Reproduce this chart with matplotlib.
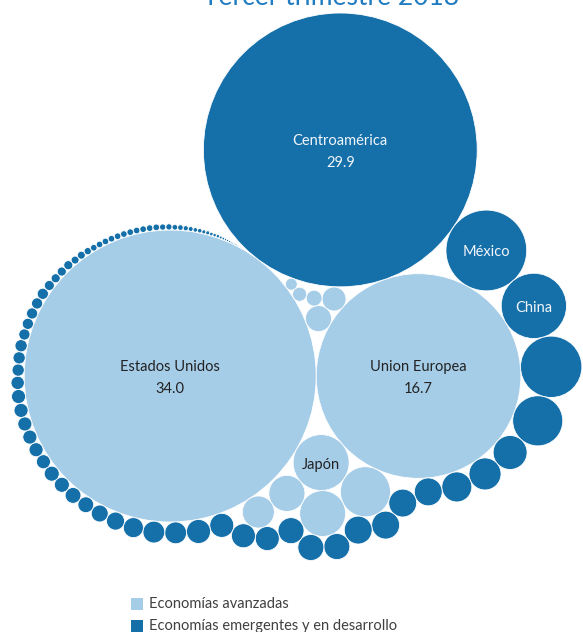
from __future__ import annotations

import matplotlib
matplotlib.use('Agg')
import matplotlib.pyplot as plt
import numpy as np
from matplotlib.patches import Circle, Rectangle

# Participación por destino (%), tercer trimestre 2018
avanzadas_nombres = ['Estados Unidos', 'Union Europea', 'Japón']
avanzadas_valores = [34.0, 16.7, 1.25]
# resto de economías avanzadas (sin etiqueta)
avanzadas_resto = [1.0, 0.84, 0.52, 0.41, 0.27, 0.23, 0.10, 0.08, 0.057]

emergentes_nombres = ['Centroamérica', 'México', 'China']
emergentes_valores = [29.9, 2.6, 1.7]
# resto de economías emergentes y en desarrollo, de mayor a menor
emergentes_resto = [
    1.5, 1.0, 0.46, 0.41, 0.36, 0.31, 0.31, 0.31, 0.31, 0.27, 0.27, 0.27,
    0.23, 0.23, 0.23, 0.23, 0.19, 0.19, 0.16, 0.13, 0.115, 0.10, 0.10,
    0.09, 0.09, 0.079, 0.079, 0.079, 0.079, 0.079, 0.079, 0.071, 0.06,
    0.06, 0.06, 0.05, 0.05, 0.05, 0.05, 0.05, 0.04, 0.033, 0.033, 0.033,
    0.025, 0.025, 0.021, 0.0175, 0.0175, 0.0175, 0.0175, 0.0175, 0.0175,
    0.0175, 0.0175, 0.0175, 0.0175, 0.0175, 0.0156, 0.0156, 0.0125, 0.0125,
    0.0105, 0.0096, 0.008, 0.008, 0.0065, 0.0065, 0.0051, 0.0045, 0.0045,
    0.0034, 0.0029, 0.002, 0.0018, 0.0016, 0.0014, 0.0012, 0.001, 0.0009,
    0.0008, 0.0007,
]

# solo las tres burbujas grandes muestran su valor
con_valor = ['Estados Unidos', 'Union Europea', 'Centroamérica']

titulo = 'Tercer trimestre 2018'
leyenda = ['Economías avanzadas', 'Economías emergentes y en desarrollo']

AZUL_CLARO = '#a6cde8'
AZUL_OSCURO = '#1570aa'
ESCALA = 25.04  # px por raíz de punto porcentual (área proporcional al valor)
FUENTE = 'Lato'


def radio(v):
    return ESCALA * np.sqrt(v)


def tangentes(c1, c2, r):
    """Centros posibles de un círculo de radio r que toca a c1 y c2."""
    x1, y1, r1 = c1
    x2, y2, r2 = c2
    d1, d2 = r1 + r, r2 + r
    dx, dy = x2 - x1, y2 - y1
    d = np.hypot(dx, dy)
    if d == 0 or d > d1 + d2 or d < abs(d1 - d2):
        return []
    a = (d1 ** 2 - d2 ** 2 + d ** 2) / (2 * d)
    h = np.sqrt(max(d1 ** 2 - a ** 2, 0.0))
    ux, uy = dx / d, dy / d
    px, py = x1 + a * ux, y1 + a * uy
    return [(px - h * uy, py + h * ux), (px + h * uy, py - h * ux)]


def libre(x, y, r, arr):
    d = np.hypot(arr[:, 0] - x, arr[:, 1] - y)
    return bool(np.all(d >= arr[:, 2] + r - 1e-6))


def colocar_cerca(r, circulos, objetivo, filtro):
    """Coloca el círculo tocando a dos ya puestos, lo más cerca del objetivo."""
    arr = np.array(circulos)
    mejor = None
    for i in range(len(circulos)):
        for j in range(i + 1, len(circulos)):
            for x, y in tangentes(circulos[i], circulos[j], r):
                if not filtro(x, y) or not libre(x, y, r, arr):
                    continue
                d = np.hypot(x - objetivo[0], y - objetivo[1])
                if mejor is None or d < mejor[0]:
                    mejor = (d, x, y)
    return (mejor[1], mejor[2], r)


def rodear(valores, circulos, i_inicio, origen):
    """Cadena de burbujas pegadas al grupo, avanzando en sentido horario."""
    ox, oy = origen
    i_prev = i_inicio
    for v in valores:
        r = radio(v)
        arr = np.array(circulos)
        prev = circulos[i_prev]
        a0 = np.arctan2(prev[1] - oy, prev[0] - ox)
        mejor = None
        for k, c in enumerate(circulos):
            if k == i_prev:
                continue
            for x, y in tangentes(prev, c, r):
                da = (np.arctan2(y - oy, x - ox) - a0) % (2 * np.pi)
                if not 0 < da < np.pi:
                    continue
                if not libre(x, y, r, arr):
                    continue
                d = np.hypot(x - ox, y - oy)
                if mejor is None or d < mejor[0]:
                    mejor = (d, x, y)
        circulos.append((mejor[1], mejor[2], r))
        i_prev = len(circulos) - 1


def main():
    r_us, r_ue = radio(avanzadas_valores[0]), radio(avanzadas_valores[1])
    r_ca = radio(emergentes_valores[0])

    # tres burbujas grandes tocándose (y hacia abajo)
    us = (0.0, 0.0, r_us)
    ue = (r_us + r_ue, 0.0, r_ue)
    ca_xy = min(tangentes(us, ue, r_ca), key=lambda p: p[1])
    ca = (ca_xy[0], ca_xy[1], r_ca)
    circulos = [us, ue, ca]
    origen = (r_us, 0.0)

    # hueco entre las tres grandes
    r_hueco = 1.0 / (1 / r_us + 1 / r_ue + 1 / r_ca
                     + 2 * np.sqrt(1 / (r_us * r_ue) + 1 / (r_ue * r_ca)
                                   + 1 / (r_ca * r_us)))

    # Japón en la muesca inferior entre EE.UU. y la UE
    circulos.append(colocar_cerca(radio(avanzadas_valores[2]), circulos,
                                  origen, lambda x, y: y > 0))

    # las avanzadas menores rellenan el hueco de arriba, el resto va abajo
    chicas = [v for v in avanzadas_resto if radio(v) < 0.75 * r_hueco]
    medianas = [v for v in avanzadas_resto if radio(v) >= 0.75 * r_hueco]
    rodear(medianas, circulos, 1, origen)
    tope = 0.0
    for v in chicas:
        c = colocar_cerca(radio(v), circulos, origen,
                          lambda x, y: y < tope + 1e-6)
        circulos.append(c)
        tope = min(tope, c[1]) if tope < 0 else c[1]
    colores = [AZUL_CLARO, AZUL_CLARO, AZUL_OSCURO]
    colores += [AZUL_CLARO] * (len(circulos) - 3)

    # emergentes: cadena alrededor del grupo desde Centroamérica
    n0 = len(circulos)
    rodear(emergentes_valores[1:] + emergentes_resto, circulos, 2, origen)
    colores += [AZUL_OSCURO] * (len(circulos) - n0)

    arr = np.array(circulos)
    arr[:, 0] += 11 - (arr[:, 0] - arr[:, 2]).min()
    arr[:, 1] += 13 - (arr[:, 1] - arr[:, 2]).min()

    fig = plt.figure(figsize=(5.83, 6.32), dpi=100)
    ax = fig.add_axes([0, 0, 1, 1])
    ax.set_xlim(0, 583)
    ax.set_ylim(632, 0)
    ax.axis('off')

    for (x, y, r), col in zip(arr, colores):
        ax.add_patch(Circle((x, y), r, facecolor=col, edgecolor='white',
                            linewidth=0.6))

    # etiquetas: índice de cada burbuja con nombre
    nombres = {
        'Estados Unidos': (0, avanzadas_valores[0]),
        'Union Europea': (1, avanzadas_valores[1]),
        'Centroamérica': (2, emergentes_valores[0]),
        'Japón': (3, avanzadas_valores[2]),
        'México': (n0, emergentes_valores[1]),
        'China': (n0 + 1, emergentes_valores[2]),
    }
    for nombre, (i, v) in nombres.items():
        x, y, r = arr[i]
        txt = f'{nombre}\n{v:.1f}' if nombre in con_valor else nombre
        col = '#f2f6fa' if colores[i] == AZUL_OSCURO else '#222222'
        ax.text(x, y + 2, txt, ha='center', va='center', fontsize=10.5,
                family=FUENTE, color=col, linespacing=1.75)

    ax.text(331, 5, titulo, ha='center', va='baseline', fontsize=19,
            family=FUENTE, color='#1f7cc2')

    for k, (etq, col) in enumerate(zip(leyenda, [AZUL_CLARO, AZUL_OSCURO])):
        y = 604 + 22 * k
        ax.add_patch(Rectangle((131, y - 6), 12, 12, facecolor=col,
                               edgecolor='none'))
        ax.text(149, y, etq, ha='left', va='center', fontsize=10.5,
                family=FUENTE, color='#404040')

    plt.savefig('out.png', dpi=100)
    plt.close(fig)


if __name__ == "__main__":
    main()
